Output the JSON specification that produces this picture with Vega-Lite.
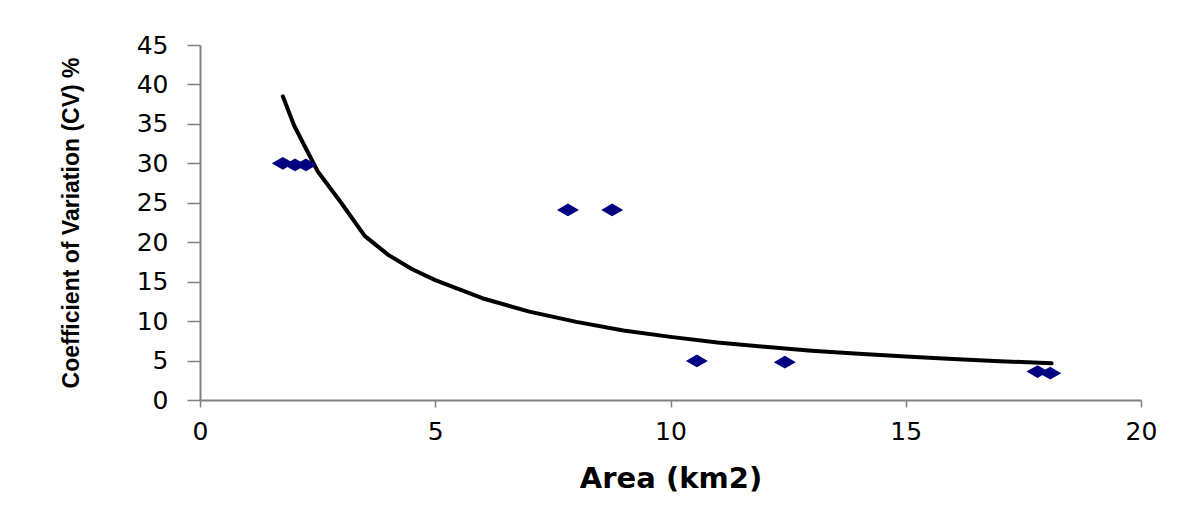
{
  "$schema": "https://vega.github.io/schema/vega-lite/v6.json",
  "width": 941,
  "height": 355,
  "autosize": {"type": "none"},
  "padding": {"left": 200, "top": 45, "right": 48, "bottom": 112},
  "background": "white",
  "config": {
    "view": {"stroke": null},
    "font": "DejaVu Sans"
  },
  "datasets": {
    "points": [
      {"area": 1.76, "cv": 30},
      {"area": 2.02, "cv": 29.8},
      {"area": 2.25, "cv": 29.8},
      {"area": 7.82, "cv": 24.1},
      {"area": 8.76, "cv": 24.1},
      {"area": 10.56, "cv": 4.95},
      {"area": 12.43, "cv": 4.8},
      {"area": 17.8, "cv": 3.6},
      {"area": 18.07, "cv": 3.4}
    ],
    "trend": [
      {"area": 1.76, "cv": 38.5},
      {"area": 2.0, "cv": 34.8},
      {"area": 2.5, "cv": 29.0},
      {"area": 3.0, "cv": 25.0},
      {"area": 3.5, "cv": 20.8},
      {"area": 4.0, "cv": 18.4},
      {"area": 4.5, "cv": 16.6},
      {"area": 5.0, "cv": 15.2},
      {"area": 6.0, "cv": 12.9},
      {"area": 7.0, "cv": 11.2},
      {"area": 8.0, "cv": 9.9},
      {"area": 9.0, "cv": 8.8},
      {"area": 10.0, "cv": 8.0},
      {"area": 11.0, "cv": 7.3},
      {"area": 12.0, "cv": 6.75},
      {"area": 13.0, "cv": 6.25},
      {"area": 14.0, "cv": 5.85},
      {"area": 15.0, "cv": 5.5},
      {"area": 16.0, "cv": 5.2},
      {"area": 17.0, "cv": 4.92},
      {"area": 18.1, "cv": 4.65}
    ]
  },
  "encoding": {
    "x": {"field": "area", "type": "quantitative", "scale": {"domain": [0, 20], "nice": false},
      "axis": {"values": [0, 5, 10, 15, 20], "title": "Area (km2)", "grid": false,
        "domainColor": "#808080", "domainWidth": 2, "tickColor": "#808080", "tickWidth": 1.5,
        "tickSize": 7, "labelPadding": 12, "titlePadding": 20, "labelFlush": false, "labelOverlap": false,
        "labelFont": "DejaVu Sans", "labelFontSize": 25, "labelColor": "black",
        "titleFont": "DejaVu Sans", "titleFontSize": 29, "titleFontWeight": "bold", "titleColor": "black"}},
    "y": {"field": "cv", "type": "quantitative", "scale": {"domain": [0, 45], "nice": false},
      "axis": {"values": [0, 5, 10, 15, 20, 25, 30, 35, 40, 45], "title": "Coefficient of Variation (CV) %", "grid": false,
        "domainColor": "#808080", "domainWidth": 2, "tickColor": "#808080", "tickWidth": 1.5,
        "tickSize": 13, "labelPadding": 19, "titlePadding": 53, "labelFlush": false, "labelOverlap": false,
        "labelFont": "DejaVu Sans", "labelFontSize": 25, "labelColor": "black",
        "titleFont": "Liberation Sans", "titleFontSize": 23, "titleFontWeight": "bold", "titleColor": "black"}}
  },
  "layer": [
    {
      "data": {"name": "trend"},
      "mark": {"type": "line", "color": "black", "strokeWidth": 4, "strokeCap": "round", "strokeJoin": "round"}
    },
    {
      "data": {"name": "points"},
      "mark": {"type": "point", "filled": true, "color": "#000080", "opacity": 1, "size": 484, "shape": "M-1,0L0,-0.58L1,0L0,0.58Z"}
    }
  ]
}
